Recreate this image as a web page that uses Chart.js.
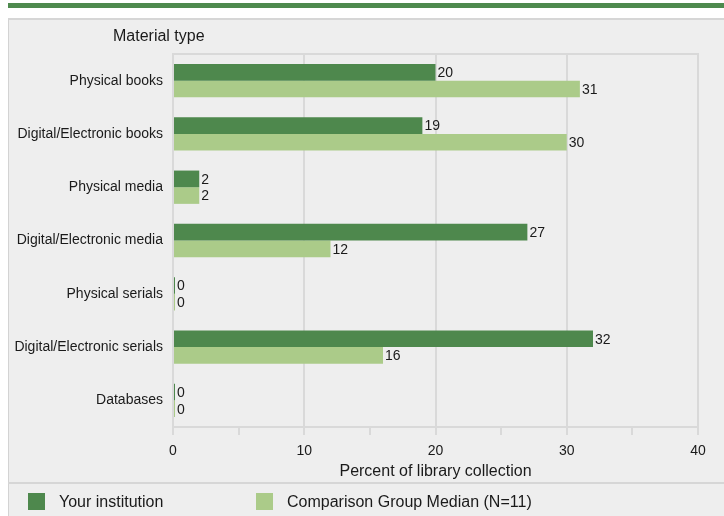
<!DOCTYPE html>
<html>
<head>
<meta charset="utf-8">
<script src="https://cdn.jsdelivr.net/npm/chart.js@4"></script>
<style>
  body { margin: 0; background: #fff; font-family: "Liberation Sans", Arial, sans-serif; }
  #wrap { position: relative; width: 724px; height: 516px; overflow: hidden; }
  #topbar { position: absolute; left: 8px; top: 3px; width: 716px; height: 5px; background: #4e8a4e; }
  #panel { position: absolute; left: 8px; top: 18px; width: 716px; height: 498px; background: #eeeeee;
           border-left: 1px solid #d3d3d3; border-top: 2px solid #d6d6d6; box-sizing: border-box; }
  #sep { position: absolute; left: 8px; top: 482px; width: 716px; height: 2px; background: #d6d6d6; }
  canvas { position: absolute; left: 0; top: 0; }
  .leg { position: absolute; top: 493px; height: 17px; font-size: 16px; color: #1a1a1a; }
  .leg span.box { position: absolute; left: 0; top: 0; width: 17px; height: 17px; }
  .leg span.txt { position: absolute; top: 0; line-height: 17px; white-space: nowrap; }
</style>
</head>
<body>
<div id="wrap">
  <div id="topbar"></div>
  <div id="panel"></div>
  <div id="sep"></div>
  <canvas id="chart" width="724" height="516"></canvas>
  <div id="legend"></div>
</div>
<script>
const categories = ['Physical books', 'Digital/Electronic books', 'Physical media', 'Digital/Electronic media',
                    'Physical serials', 'Digital/Electronic serials', 'Databases'];
const yourInstitution = [20, 19, 2, 27, 0, 32, 0];
const comparisonMedian = [31, 30, 2, 12, 0, 16, 0];
const seriesNames = ['Your institution', 'Comparison Group Median (N=11)'];
const seriesColors = ['#4e884d', '#abcb89'];
const xMin = 0, xMax = 40, xStep = 5;

const fontFamily = '"Liberation Sans", Arial, sans-serif';

// legend in html so the spacing matches
const legendLeft = [28, 256];
const legendDiv = document.getElementById('legend');
seriesNames.forEach(function(name, i){
  const item = document.createElement('div');
  item.className = 'leg';
  item.style.left = legendLeft[i] + 'px';
  item.innerHTML = '<span class="box" style="background:' + seriesColors[i] + '"></span>' +
                   '<span class="txt" style="left:31px">' + name + '</span>';
  legendDiv.appendChild(item);
});

const barLabels = {
  id: 'barLabels',
  afterDatasetsDraw(chart){
    const ctx = chart.ctx;
    ctx.save();
    ctx.font = '14px ' + fontFamily;
    ctx.fillStyle = '#1a1a1a';
    ctx.textBaseline = 'middle';
    ctx.textAlign = 'left';
    chart.data.datasets.forEach(function(ds, i){
      chart.getDatasetMeta(i).data.forEach(function(bar, j){
        ctx.fillText(String(ds.data[j]), bar.x + 2, bar.y + 1);
      });
    });
    // axis heading above the categories
    ctx.font = '16px ' + fontFamily;
    ctx.fillText('Material type', 113, 37);
    ctx.restore();
  }
};

const gridGray = '#d9d9d9';

new Chart(document.getElementById('chart'), {
  type: 'bar',
  data: {
    labels: categories,
    datasets: [
      { label: seriesNames[0], data: yourInstitution, backgroundColor: seriesColors[0] },
      { label: seriesNames[1], data: comparisonMedian, backgroundColor: seriesColors[1] }
    ]
  },
  options: {
    indexAxis: 'y',
    responsive: false,
    animation: false,
    devicePixelRatio: 1,
    categoryPercentage: 0.625,
    barPercentage: 1,
    minBarLength: 2,
    layout: { padding: { top: 54, right: 26, left: 0, bottom: 35 } },
    plugins: { legend: { display: false }, tooltip: { enabled: false } },
    scales: {
      x: {
        min: xMin, max: xMax,
        ticks: {
          stepSize: xStep, autoSkip: false, padding: 8,
          color: '#1a1a1a',
          font: { family: fontFamily, size: 14 },
          callback: function(v){ return v % 10 === 0 ? String(v) : ''; }
        },
        grid: {
          color: function(c){ return c.tick && c.tick.value % 10 === 0 ? gridGray : 'rgba(0,0,0,0)'; },
          tickColor: gridGray,
          lineWidth: 2,
          tickLength: 8
        },
        border: { color: gridGray, width: 2 },
        title: {
          display: true, text: 'Percent of library collection', color: '#1a1a1a',
          font: { family: fontFamily, size: 16 },
          padding: { top: 0, bottom: 0 }
        },
        afterFit: function(scale){ scale.height = 54; }
      },
      x2: {
        position: 'top', min: xMin, max: xMax,
        ticks: { display: false },
        grid: { display: false, drawTicks: false },
        border: { color: gridGray, width: 2 },
        afterFit: function(scale){ scale.height = 0; }
      },
      y: {
        ticks: {
          padding: 10, color: '#1a1a1a',
          font: { family: fontFamily, size: 14 }
        },
        grid: { display: false, drawTicks: false },
        border: { display: false },
        afterFit: function(scale){ scale.width = 173; }
      }
    }
  },
  plugins: [barLabels]
});
</script>
</body>
</html>
